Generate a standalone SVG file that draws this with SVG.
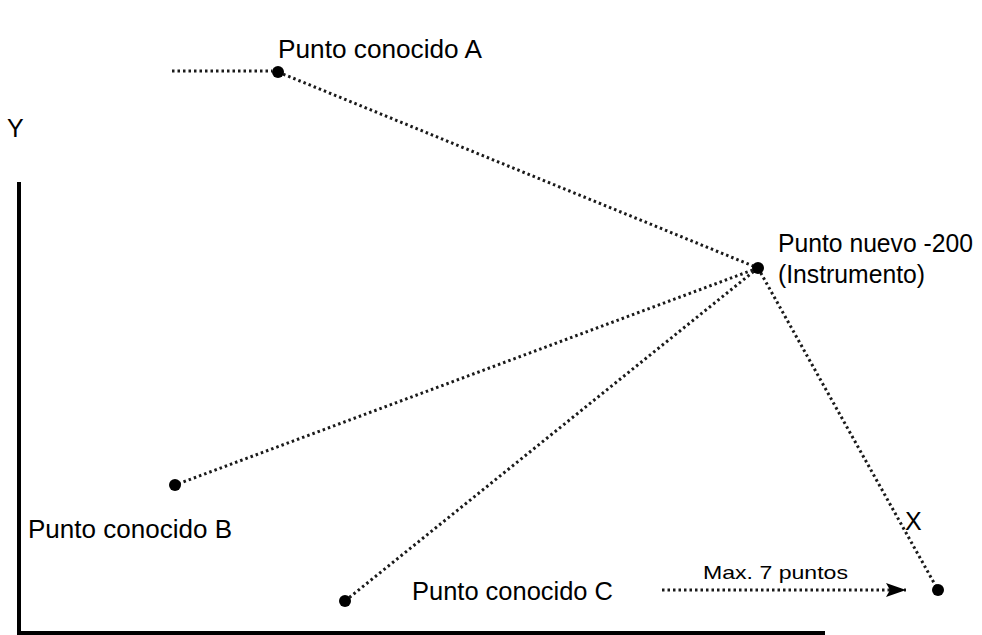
<svg xmlns="http://www.w3.org/2000/svg" width="982" height="635" viewBox="0 0 982 635">
<style>
.t{font-family:"Liberation Sans",Arial,sans-serif;font-size:25px;fill:#000}
.s{font-size:19px}
.d{stroke:#1a1a1a;stroke-width:3;stroke-dasharray:2.5 3;fill:none}
.ax{stroke:#000;stroke-width:4;fill:none}
.p{fill:#000}
</style>
<defs>
<marker id="ah2" viewBox="0 0 20 14" refX="20" refY="7" markerWidth="20" markerHeight="14" orient="auto" markerUnits="userSpaceOnUse">
<path d="M0,0 L20,7 L0,14 L4,7 Z" fill="#000"/>
</marker>
</defs>
<g id="axes">
<path class="ax" d="M19,182 L19,633 L825,633"/>
<text class="t" x="7" y="137" font-size="26">Y</text>
<text class="t" x="905" y="530">X</text>
</g>
<g id="connectors">
<line class="d" x1="172" y1="71" x2="272" y2="71"/>
<line class="d" x1="278" y1="72" x2="758" y2="268"/>
<line class="d" x1="758" y1="268" x2="175" y2="485"/>
<line class="d" x1="758" y1="268" x2="345" y2="601"/>
<line class="d" x1="758" y1="268" x2="938" y2="590"/>
<line class="d" x1="662" y1="590" x2="906" y2="590" marker-end="url(#ah2)"/>
</g>
<g id="pointA"><circle class="p" cx="278" cy="72" r="6"/><text class="t" x="278" y="58" textLength="204" lengthAdjust="spacingAndGlyphs">Punto conocido A</text></g>
<g id="pointNew"><circle class="p" cx="758" cy="268" r="6"/><text class="t" x="778" y="252" textLength="195" lengthAdjust="spacingAndGlyphs">Punto nuevo -200</text><text class="t" x="778" y="283" textLength="147" lengthAdjust="spacingAndGlyphs">(Instrumento)</text></g>
<g id="pointB"><circle class="p" cx="175" cy="485" r="6"/><text class="t" x="28" y="538" textLength="204" lengthAdjust="spacingAndGlyphs">Punto conocido B</text></g>
<g id="pointC"><circle class="p" cx="345" cy="601" r="6"/><text class="t" x="412" y="600" textLength="201" lengthAdjust="spacingAndGlyphs">Punto conocido C</text></g>
<g id="pointEnd"><circle class="p" cx="938" cy="590" r="6"/><text class="t s" x="703" y="579" textLength="145" lengthAdjust="spacingAndGlyphs">Max. 7 puntos</text></g>
</svg>
